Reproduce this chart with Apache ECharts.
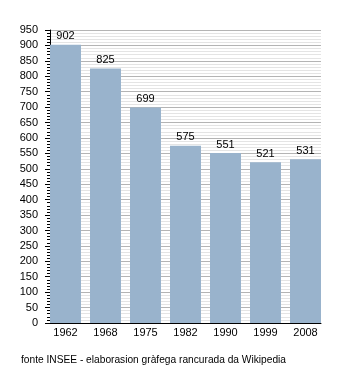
<!DOCTYPE html>
<html>
<head>
<meta charset="utf-8">
<script src="https://cdn.jsdelivr.net/npm/echarts@6/dist/echarts.min.js"></script>
<style>
  html, body { margin: 0; padding: 0; background: #fff; }
  #chart { width: 350px; height: 373px; }
</style>
</head>
<body>
<div id="chart"></div>
<script>
// Population by census year
const years = ['1962', '1968', '1975', '1982', '1990', '1999', '2008'];
const population = [902, 825, 699, 575, 551, 521, 531];
const yMax = 950;
const yStep = 50;
const sourceNote = 'fonte INSEE - elaborasion gràfega rancurada da Wikipedia';

const font = '"Liberation Sans", Arial, sans-serif';
const chart = echarts.init(document.getElementById('chart'), null, { renderer: 'canvas' });

chart.setOption({
  backgroundColor: '#ffffff',
  animation: false,
  title: {
    text: sourceNote,
    left: 21,
    top: 355,
    padding: 0,
    textStyle: { fontFamily: font, fontSize: 10.2, fontWeight: 'normal', color: '#000' }
  },
  grid: [
    // frame: axes and gridlines
    { left: 50, top: 30, width: 271, height: 293 },
    // bars: slightly wider so the outer bars sit flush with the frame edges
    { left: 45.5, top: 30, width: 280, height: 293 }
  ],
  xAxis: [
    {
      gridIndex: 0, type: 'category', data: years,
      axisLine: { lineStyle: { color: '#000', width: 1 } },
      axisTick: { show: false },
      axisLabel: { show: false }
    },
    {
      gridIndex: 1, type: 'category', data: years,
      axisLine: { show: false },
      axisTick: { show: false },
      axisLabel: { fontFamily: font, fontSize: 11, color: '#000', margin: 4 }
    }
  ],
  yAxis: [
    {
      gridIndex: 0, type: 'value', min: 0, max: yMax, interval: yStep,
      axisLine: { show: true, lineStyle: { color: '#000', width: 1 } },
      axisTick: { show: true, inside: false, length: 5, lineStyle: { color: '#000' } },
      minorTick: { show: true, splitNumber: 5, length: 3, lineStyle: { color: '#000' } },
      axisLabel: { fontFamily: font, fontSize: 11, color: '#000', margin: 12 },
      splitLine: { show: true, lineStyle: { color: '#b4b4b4', width: 1 } },
      minorSplitLine: { show: true, lineStyle: { color: '#e4e4e4', width: 1 } }
    },
    {
      gridIndex: 1, type: 'value', min: 0, max: yMax, interval: yStep,
      axisLine: { show: false }, axisTick: { show: false },
      axisLabel: { show: false }, splitLine: { show: false }
    }
  ],
  series: [{
    type: 'bar',
    xAxisIndex: 1,
    yAxisIndex: 1,
    data: population,
    barWidth: 31,
    itemStyle: { color: '#99b3cc' },
    label: {
      show: true, position: 'top', distance: 3,
      fontFamily: font, fontSize: 11, color: '#000'
    },
    z: 3
  }]
});
</script>
</body>
</html>
